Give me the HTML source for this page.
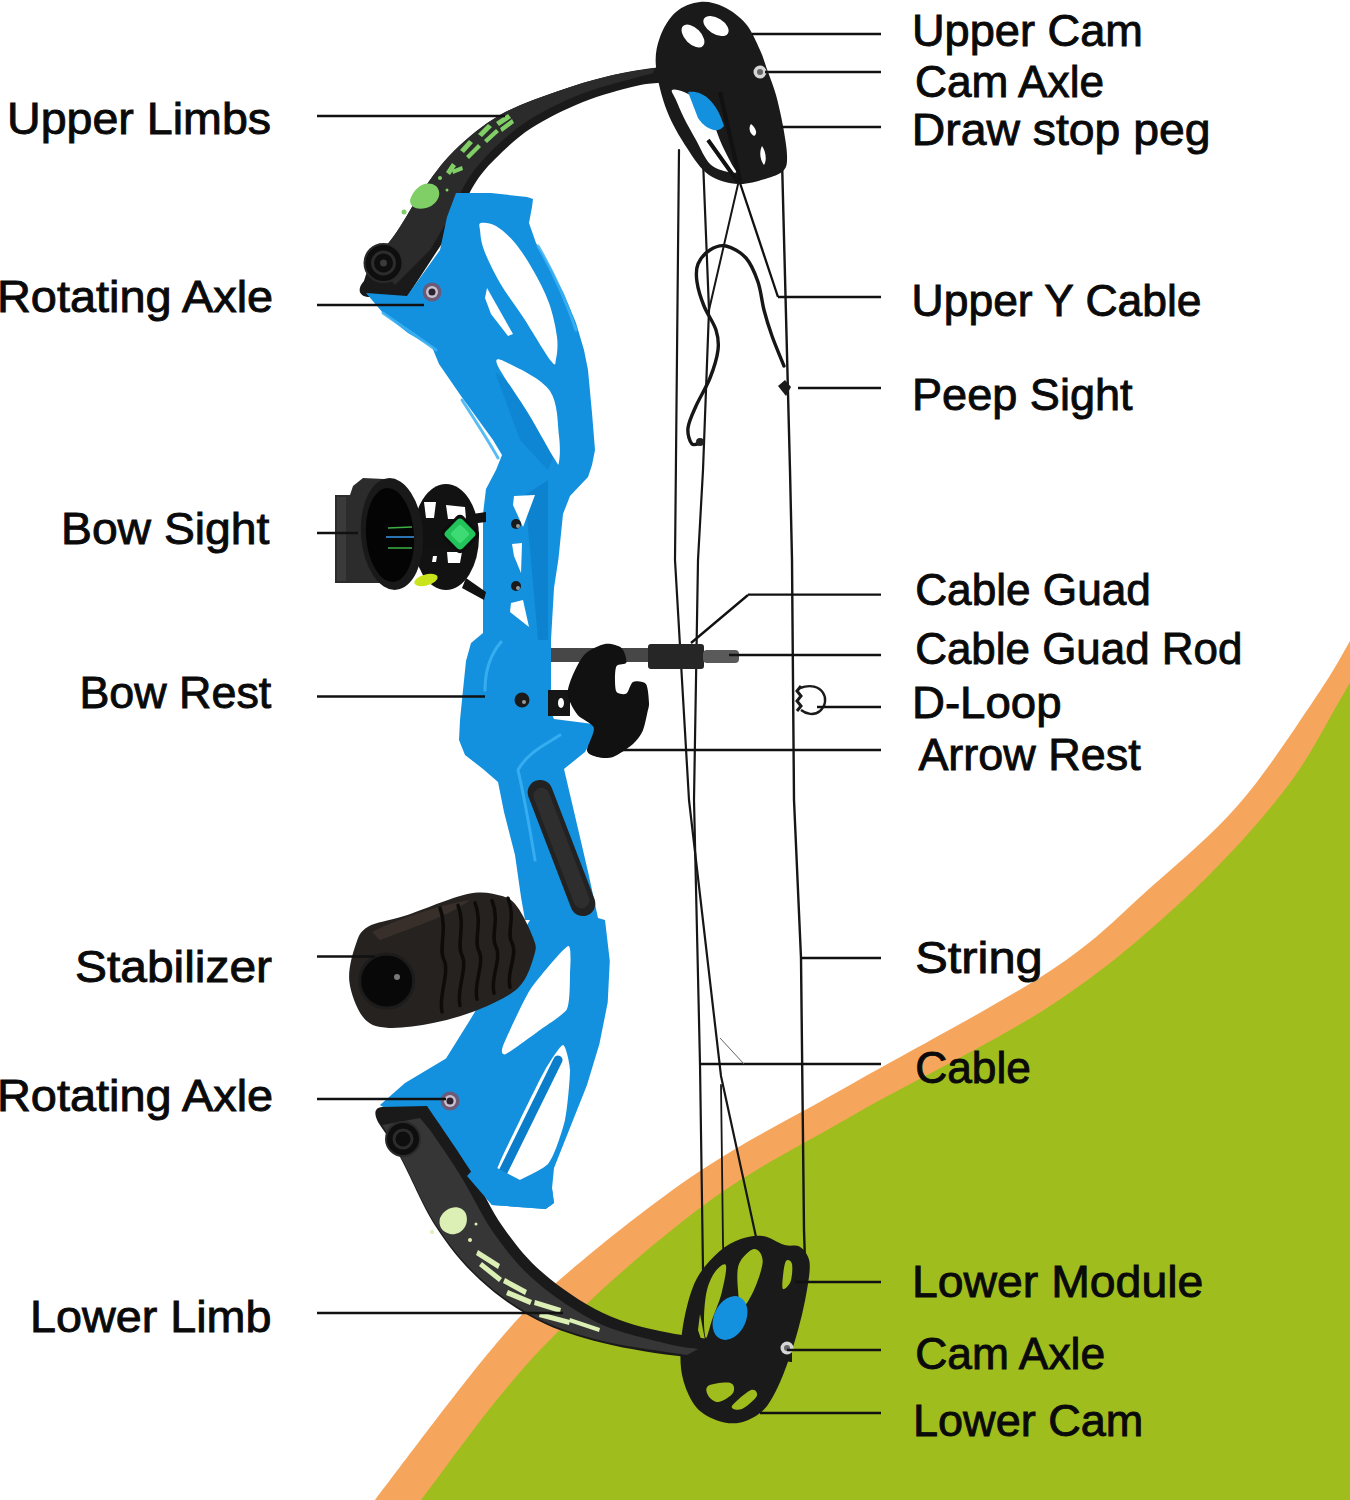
<!DOCTYPE html>
<html><head><meta charset="utf-8"><style>
html,body{margin:0;padding:0;background:#fff;width:1350px;height:1500px;overflow:hidden}
svg{display:block}
</style></head><body>
<svg width="1350" height="1500" viewBox="0 0 1350 1500">
<path d="M345.0,1540.0 C350.0,1533.3 350.7,1531.7 375.0,1500.0 C399.3,1468.3 459.5,1387.3 491.0,1350.0 C522.5,1312.7 529.2,1305.8 564.0,1276.0 C598.8,1246.2 652.3,1202.8 700.0,1171.0 C747.7,1139.2 791.7,1118.3 850.0,1085.0 C908.3,1051.7 1000.0,1003.8 1050.0,971.0 C1100.0,938.2 1118.5,915.8 1150.0,888.0 C1181.5,860.2 1211.7,835.3 1239.0,804.0 C1266.3,772.7 1295.5,727.2 1314.0,700.0 C1332.5,672.8 1339.0,660.2 1350.0,641.0 C1361.0,621.8 1375.0,594.3 1380.0,585.0 L1400,1550 L300,1550Z" fill="#f6a65c"/>
<path d="M393.0,1540.0 C397.7,1533.3 396.5,1531.7 421.0,1500.0 C445.5,1468.3 493.5,1398.7 540.0,1350.0 C586.5,1301.3 648.3,1246.8 700.0,1208.0 C751.7,1169.2 791.7,1150.7 850.0,1117.0 C908.3,1083.3 994.5,1042.2 1050.0,1006.0 C1105.5,969.8 1144.2,935.7 1183.0,900.0 C1221.8,864.3 1256.8,825.3 1283.0,792.0 C1309.2,758.7 1325.5,724.5 1340.0,700.0 C1354.5,675.5 1365.0,654.2 1370.0,645.0 L1400,1550 L300,1550Z" fill="#9fbd1d"/>
<g fill="none" stroke="#161616" stroke-linecap="round" stroke-linejoin="round">
<path d="M679,150 L675,560 L689,800 L721,1076 L761,1260 L766,1285" stroke-width="2.2"/>
<path d="M703,160 L709,310 L706,390 L703,470 L698,560 L694,800 L700,1064 L703,1270" stroke-width="2.2"/>
<path d="M739,180 L709,310" stroke-width="2"/>
<path d="M721,1085 L723,1244 L724,1262" stroke-width="1.8"/>
<path d="M782,160 L790,470 L792,560 L794,800 L801,958 L804,1230 L805,1262" stroke-width="2.4"/>
<path d="M784.0,366.0 C782.0,361.0 775.3,345.3 772.0,336.0 C768.7,326.7 766.3,319.0 764.0,310.0 C761.7,301.0 761.0,290.7 758.0,282.0 C755.0,273.3 751.3,264.0 746.0,258.0 C740.7,252.0 732.0,247.3 726.0,246.0 C720.0,244.7 714.7,247.0 710.0,250.0 C705.3,253.0 700.2,258.7 698.0,264.0 C695.8,269.3 696.0,275.0 697.0,282.0 C698.0,289.0 700.8,298.0 704.0,306.0 C707.2,314.0 713.7,322.7 716.0,330.0 C718.3,337.3 719.0,342.0 718.0,350.0 C717.0,358.0 713.7,368.7 710.0,378.0 C706.3,387.3 699.7,397.7 696.0,406.0 C692.3,414.3 688.7,421.7 688.0,428.0 C687.3,434.3 689.7,441.7 692.0,444.0 C694.3,446.3 700.3,442.3 702.0,442.0" stroke-width="3.4"/>
</g>
<circle cx="700" cy="442" r="4" fill="#222"/>
<path d="M700.0,2.0 C708.0,1.2 716.3,3.3 724.0,7.0 C731.7,10.7 740.0,16.8 746.0,24.0 C752.0,31.2 756.3,42.0 760.0,50.0 C763.7,58.0 765.3,64.5 768.0,72.0 C770.7,79.5 773.5,86.0 776.0,95.0 C778.5,104.0 781.2,116.0 783.0,126.0 C784.8,136.0 786.8,147.7 787.0,155.0 C787.2,162.3 787.2,166.2 784.0,170.0 C780.8,173.8 775.6,175.7 768.0,178.0 C760.4,180.3 748.3,184.5 738.5,184.0 C728.7,183.5 717.6,181.0 709.0,175.0 C700.4,169.0 694.0,158.7 687.0,148.0 C680.0,137.3 672.2,124.5 667.0,111.0 C661.8,97.5 657.2,79.3 656.0,67.0 C654.8,54.7 656.7,46.2 660.0,37.0 C663.3,27.8 669.3,17.8 676.0,12.0 C682.7,6.2 692.0,2.8 700.0,2.0Z" fill="#1a1a1a"/>
<ellipse cx="716" cy="26" rx="14" ry="8" transform="rotate(32 716 26)" fill="#fff"/>
<ellipse cx="693" cy="36" rx="14" ry="8" transform="rotate(45 693 36)" fill="#fff"/>
<path d="M672.0,90.0 C673.3,88.7 679.3,90.0 684.0,92.0 C688.7,94.0 695.3,97.3 700.0,102.0 C704.7,106.7 708.3,112.8 712.0,120.0 C715.7,127.2 718.3,137.0 722.0,145.0 C725.7,153.0 731.3,163.5 734.0,168.0 C736.7,172.5 739.0,171.3 738.0,172.0 C737.0,172.7 732.7,173.3 728.0,172.0 C723.3,170.7 715.3,169.3 710.0,164.0 C704.7,158.7 700.3,147.7 696.0,140.0 C691.7,132.3 687.3,124.7 684.0,118.0 C680.7,111.3 678.0,104.7 676.0,100.0 C674.0,95.3 670.7,91.3 672.0,90.0Z" fill="#fff"/>
<path d="M688,92 C702,90 716,100 724,126 C718,134 706,130 698,118Z" fill="#1491de"/>
<path d="M708,140 L738,182 M720,92 L740,180" stroke="#111" stroke-width="4"/>
<path d="M751,124 C756,128 758,134 754,136 C750,134 748,128 751,124Z" fill="#fff"/>
<path d="M762,146 C766,152 767,160 764,165 C760,160 759,152 762,146Z" fill="#fff"/>
<path d="M364.0,281.0 C365.2,278.3 365.5,273.2 371.0,265.0 C376.5,256.8 388.3,244.0 397.0,231.5 C405.7,219.0 413.5,203.4 423.0,190.0 C432.5,176.6 441.2,163.5 454.0,151.0 C466.8,138.5 482.8,124.9 500.0,115.0 C517.2,105.1 538.8,98.0 557.0,91.5 C575.2,85.0 591.7,80.1 609.0,76.0 C626.3,71.9 645.8,68.7 661.0,67.0 C676.2,65.3 683.2,65.8 700.0,65.6 C716.8,65.4 751.7,65.9 762.0,66.0 L762.0,80.0  C751.7,79.8 716.8,78.1 700.0,78.5 C683.2,78.9 671.8,81.1 661.0,82.4 C650.2,83.7 648.0,83.0 635.0,86.3 C622.0,89.6 600.2,95.0 583.0,102.0 C565.8,109.0 546.2,118.5 531.5,128.0 C516.8,137.5 504.6,149.5 495.0,159.0 C485.4,168.5 480.5,174.5 474.0,185.0 C467.5,195.5 459.0,215.8 456.0,222.0 L407,297 L368,297 C360,296 356,290 364,281Z" fill="#1a1a1a"/>
<path d="M375.0,262.0 C378.7,256.9 389.0,243.5 397.0,231.5 C405.0,219.5 413.5,203.4 423.0,190.0 C432.5,176.6 441.2,163.5 454.0,151.0 C466.8,138.5 482.8,124.9 500.0,115.0 C517.2,105.1 538.8,98.0 557.0,91.5 C575.2,85.0 592.7,79.9 609.0,76.0 C625.3,72.1 647.3,69.3 655.0,68.0 L653.0,73.3 C649.6,74.2 644.9,75.1 632.8,78.6 C620.6,82.2 597.6,87.5 580.0,94.6 C562.4,101.7 542.3,111.5 527.2,121.3 C512.0,131.1 499.4,143.4 489.4,153.3 C479.4,163.2 474.0,169.9 467.2,180.8 C460.4,191.7 451.9,212.2 448.8,218.5 L430,250 L395,285Z" fill="#2b2b2b"/>
<circle cx="383.5" cy="263" r="19" fill="#0e0e0e" stroke="#2a2a2a" stroke-width="2"/><circle cx="383.5" cy="263" r="11" fill="none" stroke="#2c2c2c" stroke-width="3"/><circle cx="383.5" cy="263" r="3.5" fill="#3a3a3a"/>
<g fill="#7fcf66"><path d="M410,200 C415,185 428,180 436,186 C444,194 436,206 426,208 C418,210 410,208 410,200Z"/><circle cx="404" cy="212" r="2.5"/><circle cx="440" cy="178" r="2"/><circle cx="447" cy="190" r="1.5"/><path d="M446,172 l6,-9 l4,3 l-6,9Z M452,170 l10,-4 l1,4 l-10,4Z"/><path d="M460,150 l9,-10 l4,3 l-9,10Z M466,156 l12,-12 l3,3 l-12,12Z"/><path d="M478,134 l10,-10 l4,3 l-10,10Z M484,140 l12,-11 l3,3 l-12,11Z"/><path d="M496,122 l12,-8 l3,4 l-12,8Z M500,128 l12,-9 l2,4 l-12,9Z"/></g>
<path d="M447.0,217.0 L456.0,193.0 L491.0,193.0 L527.0,197.0 L533.0,199.0 L532.0,207.0 L529.0,223.0 L536.0,243.0 L549.0,265.0 L564.0,294.0 L576.0,323.0 L584.0,350.0 L588.0,370.0 L592.0,413.0 L595.0,450.0 L592.0,465.0 L588.0,477.0 L570.0,496.0 L563.0,514.0 L558.5,558.5 L554.0,588.0 L551.0,640.0 L551.0,712.0 L554.0,719.0 L597.0,724.5 L597.0,730.0 L585.0,752.0 L564.0,769.0 L568.0,786.0 L579.0,833.0 L589.0,876.0 L598.0,918.0 L605.0,920.0 L609.8,961.0 L607.7,1002.6 L599.4,1044.0 L587.0,1085.0 L570.5,1126.6 L554.0,1168.0 L552.0,1188.6 L554.0,1203.0 L545.7,1209.0 L492.0,1205.0 L467.0,1176.0 L420.0,1130.0 L380.0,1105.0 L405.0,1083.0 L446.0,1058.5 L470.0,1020.0 L530.0,920.0 L525.0,920.0 L521.0,897.0 L515.0,855.0 L504.0,812.0 L498.0,782.0 L483.0,769.0 L465.0,755.0 L459.0,740.0 L460.0,720.0 L463.0,690.0 L466.0,661.0 L471.0,643.0 L483.0,633.0 L483.0,514.0 L486.0,489.0 L496.0,470.0 L502.0,455.0 L493.0,440.0 L461.0,396.0 L439.0,364.0 L432.0,347.0 L408.0,333.0 L383.0,313.0 L366.0,293.0 L407.0,296.0 L440.0,250.0Z" fill="#1491de"/>
<path d="M495,372 L540,404 L556,450 L548,470 L520,440 Z" fill="#0a7ecb" opacity="0.6"/>
<path d="M525,495 L548,480 L548,640 L538,640 Z" fill="#0a7ecb" opacity="0.7"/>
<g fill="none" stroke="#3db2f4" stroke-width="3" stroke-linecap="round" opacity="0.85">
<path d="M501,642 C490,655 485,670 485,690"/>
<path d="M462,400 C475,420 488,440 498,458"/>
<path d="M383,313 C400,325 420,338 436,350"/>
<path d="M560,735 C545,745 528,752 518,770 C525,800 530,830 535,860"/>
<path d="M538,246 C552,270 566,300 576,330"/>
</g>
<path d="M481.0,223.0 C483.7,222.3 490.3,222.7 496.0,226.0 C501.7,229.3 508.8,235.7 515.0,243.0 C521.2,250.3 527.3,260.0 533.0,270.0 C538.7,280.0 545.0,291.8 549.0,303.0 C553.0,314.2 555.8,327.7 557.0,337.0 C558.2,346.3 557.0,355.0 556.0,359.0 C555.0,363.0 556.5,368.0 551.0,361.0 C545.5,354.0 531.5,330.0 523.0,317.0 C514.5,304.0 506.5,294.2 500.0,283.0 C493.5,271.8 487.3,258.8 484.0,250.0 C480.7,241.2 480.5,234.5 480.0,230.0 C479.5,225.5 478.3,223.7 481.0,223.0Z" fill="#ffffff"/>
<path d="M487,288 L513,334 L508,336 L491,314 L485,298Z" fill="#ffffff"/>
<path d="M497.0,364.0 C494.0,355.8 501.2,359.5 510.0,364.0 C518.8,368.5 541.8,379.0 550.0,391.0 C558.2,403.0 557.5,424.2 559.0,436.0 C560.5,447.8 559.8,458.3 559.0,462.0 C558.2,465.7 559.2,466.2 554.0,458.0 C548.8,449.8 537.5,428.7 528.0,413.0 C518.5,397.3 500.0,372.2 497.0,364.0Z" fill="#ffffff"/>
<path d="M514,496 L535,495 L523,527 L513,505Z" fill="#ffffff"/>
<path d="M512,544 L522,543 L521,573 L514,556Z" fill="#ffffff"/>
<path d="M511,603 L523,600 L529,627 L510,612Z" fill="#ffffff"/>
<path d="M568.0,946.0 C572.0,944.5 570.1,968.7 570.0,975.0 C569.9,981.3 570.0,1003.5 567.0,1009.0 C564.0,1014.5 546.1,1025.5 540.0,1030.0 C533.9,1034.5 509.7,1052.4 506.0,1054.0 C502.3,1055.6 500.6,1052.4 503.0,1046.0 C505.4,1039.6 523.5,1000.0 530.0,990.0 C536.5,980.0 564.0,947.5 568.0,946.0Z" fill="#ffffff"/>
<path d="M563.0,1045.0 C565.5,1045.0 569.8,1062.5 570.0,1070.0 C570.2,1077.5 567.2,1110.6 565.0,1120.0 C562.8,1129.4 554.1,1157.4 548.0,1164.0 C541.9,1170.6 509.2,1185.2 504.0,1186.0 C498.8,1186.8 494.4,1178.6 496.0,1172.0 C497.6,1165.4 515.1,1130.2 520.0,1120.0 C524.9,1109.8 540.7,1077.5 545.0,1070.0 C549.3,1062.5 560.5,1045.0 563.0,1045.0Z" fill="#ffffff"/>
<path d="M558,1060 L500,1178" stroke="#0a7ecb" stroke-width="9" stroke-linecap="round"/>
<rect x="-12.5" y="-72" width="25" height="144" rx="12.5" fill="#222" transform="translate(561.5,848) rotate(-21)"/>
<rect x="-8" y="-64" width="16" height="128" rx="8" fill="#2e2e2e" transform="translate(561.5,848) rotate(-21)"/>
<circle cx="432" cy="292" r="9.5" fill="#6b5a78"/><circle cx="432" cy="292" r="6" fill="#c9c0cf"/><circle cx="432" cy="292" r="3.5" fill="#2a2230"/>
<circle cx="450" cy="1101" r="9.5" fill="#6b5a78"/><circle cx="450" cy="1101" r="6" fill="#c9c0cf"/><circle cx="450" cy="1101" r="3.5" fill="#2a2230"/>
<circle cx="516" cy="524" r="5.0" fill="#1a1a1a"/><circle cx="518" cy="526" r="2" fill="#999"/>
<circle cx="516" cy="586" r="5.0" fill="#1a1a1a"/><circle cx="518" cy="588" r="2" fill="#999"/>
<circle cx="522" cy="700" r="7.5" fill="#1a1a1a"/><circle cx="524" cy="702" r="2" fill="#999"/>
<path d="M762.7,1236.0 C770.0,1237.0 778.6,1243.3 784.7,1245.0 C790.8,1246.7 795.5,1244.5 799.4,1246.4 C803.3,1248.4 806.3,1252.6 808.0,1256.7 C809.7,1260.8 810.1,1263.7 809.6,1271.0 C809.1,1278.3 806.9,1290.9 805.0,1300.7 C803.1,1310.5 800.7,1320.3 798.0,1330.0 C795.3,1339.7 792.5,1349.2 789.0,1359.0 C785.5,1368.8 781.4,1380.1 777.0,1388.7 C772.6,1397.3 768.8,1405.1 762.7,1410.7 C756.7,1416.3 748.0,1420.7 740.7,1422.4 C733.4,1424.1 726.0,1423.4 718.7,1421.0 C711.4,1418.6 702.6,1414.5 696.7,1407.8 C690.8,1401.1 686.2,1390.3 683.5,1381.0 C680.8,1371.7 680.2,1363.0 680.5,1352.0 C680.8,1341.0 682.3,1327.2 685.0,1315.0 C687.7,1302.8 691.1,1289.2 696.7,1278.7 C702.3,1268.2 711.4,1258.6 718.7,1252.0 C726.0,1245.4 733.4,1241.7 740.7,1239.0 C748.0,1236.3 755.4,1235.0 762.7,1236.0Z" fill="#1a1a1a"/>
<path d="M726.0,1265.5 C727.0,1269.2 723.9,1283.9 721.6,1293.0 C719.3,1302.1 714.6,1312.5 712.0,1320.0 C709.4,1327.5 707.3,1338.3 706.0,1338.0 C704.7,1337.7 703.8,1326.0 704.0,1318.0 C704.2,1310.0 705.0,1297.8 707.0,1290.0 C709.0,1282.2 712.5,1275.1 715.7,1271.0 C718.9,1266.9 725.0,1261.8 726.0,1265.5Z" fill="#9fbd1d"/>
<path d="M700,1314 L705,1340 L703,1345 L698,1330Z" fill="#9fbd1d"/>
<path d="M739.0,1264.0 C741.7,1257.2 750.0,1249.5 754.0,1249.0 C758.0,1248.5 762.7,1254.2 762.7,1261.0 C762.7,1267.8 757.5,1282.2 754.0,1290.0 C750.5,1297.8 744.7,1308.0 742.0,1308.0 C739.3,1308.0 738.5,1297.3 738.0,1290.0 C737.5,1282.7 736.3,1270.8 739.0,1264.0Z" fill="#9fbd1d"/>
<path d="M786.0,1261.0 C787.5,1259.0 791.2,1260.6 792.0,1264.0 C792.8,1267.4 792.1,1277.4 790.6,1281.6 C789.1,1285.8 784.3,1290.0 783.0,1289.0 C781.7,1288.0 782.5,1280.4 783.0,1275.7 C783.5,1271.0 784.5,1263.0 786.0,1261.0Z" fill="#9fbd1d"/>
<path d="M708.4,1385.8 C712.1,1383.6 726.3,1381.8 730.4,1383.0 C734.5,1384.2 735.0,1389.8 733.0,1393.0 C731.0,1396.2 722.8,1401.5 718.7,1402.0 C714.6,1402.5 710.1,1398.7 708.4,1396.0 C706.7,1393.3 704.7,1388.0 708.4,1385.8Z" fill="#9fbd1d"/>
<path d="M731.9,1406.3 C733.4,1403.1 746.9,1391.7 751.0,1390.0 C755.1,1388.3 758.3,1392.8 756.8,1396.0 C755.3,1399.2 746.1,1407.3 742.0,1409.0 C737.9,1410.7 730.4,1409.5 731.9,1406.3Z" fill="#9fbd1d"/>
<ellipse cx="730" cy="1318" rx="16" ry="23" fill="#1491de" transform="rotate(25 730 1318)"/>
<path d="M427.0,1106.0 C434.2,1116.7 457.3,1149.8 470.0,1170.0 C482.7,1190.2 490.8,1209.8 503.0,1227.0 C515.2,1244.2 526.3,1258.7 543.0,1273.0 C559.7,1287.3 581.8,1303.0 603.0,1313.0 C624.2,1323.0 642.2,1327.5 670.0,1333.0 C697.8,1338.5 749.7,1343.8 770.0,1346.0 C790.3,1348.2 788.3,1346.0 792.0,1346.0 L792.0,1362.0 C788.3,1361.8 787.5,1361.8 770.0,1361.0 C752.5,1360.2 714.8,1360.0 687.0,1357.0 C659.2,1354.0 628.0,1349.2 603.0,1343.0 C578.0,1336.8 557.5,1330.5 537.0,1320.0 C516.5,1309.5 496.8,1295.5 480.0,1280.0 C463.2,1264.5 449.3,1247.5 436.0,1227.0 C422.7,1206.5 409.7,1174.5 400.0,1157.0 C390.3,1139.5 381.7,1127.8 378.0,1122.0 C374,1114 374,1108 382,1107 Z" fill="#1a1a1a"/>
<path d="M430.8,1131.1 C435.8,1138.5 450.1,1158.7 460.6,1175.8 C471.2,1192.8 481.5,1215.8 494.0,1233.4 C506.6,1251.0 518.4,1266.4 535.8,1281.3 C553.2,1296.3 576.4,1312.6 598.3,1322.9 C620.2,1333.3 650.6,1339.3 667.3,1343.7 C683.9,1348.0 693.0,1348.0 698.2,1348.9 L687,1355  C673.0,1352.7 628.0,1347.2 603.0,1341.0 C578.0,1334.8 557.5,1328.5 537.0,1318.0 C516.5,1307.5 496.8,1293.5 480.0,1278.0 C463.2,1262.5 449.3,1245.5 436.0,1225.0 C422.7,1204.5 409.0,1171.7 400.0,1155.0 C391.0,1138.3 385.0,1130.0 382.0,1125.0 L420,1118Z" fill="#363636"/>
<path d="M467,1176 L482,1160 L520,1180 L552,1188 L554,1203 L545.7,1209 L492,1205Z" fill="#1491de"/>
<circle cx="403" cy="1139" r="17" fill="#0e0e0e" stroke="#2a2a2a" stroke-width="2"/><circle cx="403" cy="1139" r="9" fill="none" stroke="#2c2c2c" stroke-width="3"/>
<g fill="#dcefb4"><path d="M440,1218 C446,1205 462,1204 466,1214 C470,1226 460,1236 450,1234 C442,1232 438,1226 440,1218Z"/><circle cx="432" cy="1232" r="2"/><circle cx="470" cy="1240" r="2"/><circle cx="476" cy="1224" r="1.5"/><path d="M478,1250 l22,14 l-2,5 l-22,-14Z M482,1262 l20,16 l-3,4 l-20,-16Z"/><path d="M505,1278 l22,12 l-2,5 l-22,-12Z M508,1290 l24,10 l-2,5 l-24,-10Z"/><path d="M535,1300 l26,8 l-1,5 l-26,-8Z M540,1312 l30,8 l-1,5 l-30,-8Z"/><path d="M570,1318 l30,10 l-1,4 l-30,-10Z"/></g>
<circle cx="760" cy="72" r="6.5" fill="#d6d6d6"/><circle cx="760" cy="72" r="3" fill="#666"/>
<circle cx="787" cy="1348" r="6.5" fill="#d6d6d6"/><circle cx="787" cy="1348" r="3" fill="#666"/>
<path d="M335,495 L350,495 L353,486 L363,478 L384,479 L384,583 L335,583Z" fill="#2c2c2c"/>
<path d="M337,497 L346,497 L346,581 L337,581Z" fill="#3a3a3a"/>
<ellipse cx="446" cy="537" rx="33" ry="53" fill="#121212"/>
<path d="M424,502 L436,502 L434,518 L426,518Z M446,505 L465,507 L466,519 L448,519Z M447,552 L462,552 L460,563 L448,563Z M433,556 L437,556 L436,562 L432,562Z" fill="#fff"/>
<path d="M418,520 L470,520 L470,550 L418,550Z" fill="#111"/>
<path d="M466,515 L486,512 L486,522 L470,524Z" fill="#111"/>
<ellipse cx="392" cy="534" rx="31" ry="56" fill="#191919" transform="rotate(-4 392 534)"/>
<ellipse cx="390" cy="535" rx="24" ry="47" fill="#040404" transform="rotate(-4 390 535)"/>
<path d="M388,528 L412,527 M386,537 L414,537 M388,548 L412,548" stroke="#3fae47" stroke-width="1.4"/>
<path d="M386,537 L414,537" stroke="#2a6fd0" stroke-width="1.6"/>
<rect x="-15" y="-15" width="30" height="30" rx="5" fill="#0d0d0d" transform="translate(460,534) rotate(45)"/>
<rect x="-12" y="-12" width="24" height="24" rx="4" fill="#22c45a" transform="translate(460,534) rotate(45)"/>
<rect x="-7" y="-7" width="14" height="14" rx="2" fill="#3edb74" transform="translate(460,534) rotate(45)"/>
<path d="M466,578 L486,592 L484,600 L462,588Z" fill="#111"/>
<ellipse cx="426" cy="580" rx="12" ry="5.5" fill="#c9e31c" transform="rotate(-15 426 580)"/>
<path d="M368.0,926.7 C376.2,921.8 388.4,921.2 405.0,915.8 C421.6,910.3 451.7,897.4 467.5,894.0 C483.3,890.6 491.8,893.5 500.0,895.6 C508.2,897.7 511.5,899.4 517.0,906.4 C522.5,913.4 530.1,929.5 533.0,937.5 C535.9,945.5 536.8,946.3 534.4,954.6 C532.0,962.9 527.9,978.2 518.8,987.3 C509.7,996.4 494.3,1003.0 480.0,1009.0 C465.7,1015.0 448.6,1019.9 433.0,1023.0 C417.4,1026.1 398.4,1028.7 386.7,1027.7 C375.0,1026.7 369.2,1024.8 363.0,1017.0 C356.8,1009.2 350.5,993.0 349.3,981.0 C348.1,969.0 352.5,954.0 355.6,945.0 C358.7,936.0 359.8,931.6 368.0,926.7Z" fill="#262220"/>
<path d="M372,932 C400,918 440,905 470,900 C450,915 420,925 380,940Z" fill="#3e332d" opacity="0.8"/>
<g fill="none" stroke="#0e0c0b" stroke-width="3.5" stroke-linecap="round">
<path d="M440.0,908.0 C448.0,928.0 438.0,950.0 444.0,960.0 C450.0,972.0 438.0,997.0 442.0,1012.0"/>
<path d="M458.0,905.4 C466.0,925.4 456.0,945.4 462.0,955.4 C468.0,967.4 456.0,990.5 460.0,1005.5"/>
<path d="M475.0,902.9 C483.0,922.9 473.0,941.1 479.0,951.1 C485.0,963.1 473.0,984.3 477.0,999.3"/>
<path d="M492.0,900.5 C500.0,920.5 490.0,936.8 496.0,946.8 C502.0,958.8 490.0,978.2 494.0,993.2"/>
<path d="M508.0,898.2 C516.0,918.2 506.0,932.8 512.0,942.8 C518.0,954.8 506.0,972.4 510.0,987.4"/>
</g>
<circle cx="386.7" cy="981" r="27" fill="#080808"/>
<circle cx="386.7" cy="981" r="27" fill="none" stroke="#1c1c1c" stroke-width="3"/>
<circle cx="397" cy="977" r="3" fill="#777"/>
<rect x="551" y="648" width="100" height="14" fill="#474747"/>
<rect x="648" y="644" width="56" height="25" rx="3" fill="#262626"/>
<rect x="703" y="650" width="36" height="13" rx="4" fill="#5a5a5a"/>
<path d="M548,690 L570,690 L570,716 L548,716Z" fill="#161616"/><ellipse cx="561" cy="703" rx="3" ry="5" fill="#fff"/>
<path d="M605.0,644.0 C609.9,643.2 618.6,645.5 621.5,648.0 C624.4,650.5 627.1,660.2 626.4,662.6 C625.7,665.0 618.1,663.8 616.6,666.0 C615.1,668.2 615.0,675.5 615.0,679.0 C615.0,682.5 615.1,690.1 616.6,692.0 C618.1,693.9 624.2,694.9 626.4,693.6 C628.6,692.3 630.4,683.3 633.0,682.0 C635.6,680.7 643.9,681.2 646.0,684.0 C648.1,686.8 648.8,699.3 649.0,703.0 C649.2,706.7 648.4,707.8 647.6,711.5 C646.8,715.2 644.6,726.7 642.7,731.0 C640.8,735.3 637.0,740.5 633.0,744.0 C629.0,747.5 617.8,755.3 613.0,757.0 C608.2,758.7 600.5,757.9 597.0,757.0 C593.5,756.1 587.4,754.5 587.0,750.6 C586.6,746.7 595.1,732.6 593.8,727.8 C592.5,723.0 581.0,719.1 577.5,714.7 C574.0,710.3 568.4,700.2 567.7,695.0 C567.0,689.8 570.3,681.1 572.6,675.6 C574.9,670.1 580.7,658.2 585.0,654.0 C589.3,649.8 600.1,644.8 605.0,644.0Z" fill="#111"/>
<path d="M800,688 C822,680 832,700 820,711 C814,716 806,714 801,710" fill="none" stroke="#1a1a1a" stroke-width="2.4"/>
<path d="M801,686 l-4,5 l4,5 l-4,5 l4,5 l-4,5" fill="none" stroke="#1a1a1a" stroke-width="3"/>
<path d="M778,386 L785,380 L791,387 L786,396Z" fill="#1a1a1a"/>
<g stroke="#111" stroke-width="2.3" fill="none">
<line x1="752.0" y1="34.0" x2="881.0" y2="34.0"/>
<line x1="765.0" y1="72.0" x2="881.0" y2="72.0"/>
<line x1="781.0" y1="127.0" x2="881.0" y2="127.0"/>
<line x1="778.0" y1="297.0" x2="881.0" y2="297.0"/>
<line x1="798.0" y1="388.0" x2="881.0" y2="388.0"/>
<line x1="748.0" y1="594.7" x2="881.0" y2="594.7"/>
<line x1="729.0" y1="655.0" x2="881.0" y2="655.0"/>
<line x1="817.0" y1="707.0" x2="881.0" y2="707.0"/>
<line x1="620.0" y1="750.0" x2="881.0" y2="750.0"/>
<line x1="800.0" y1="958.0" x2="881.0" y2="958.0"/>
<line x1="700.0" y1="1064.0" x2="881.0" y2="1064.0"/>
<line x1="795.0" y1="1282.0" x2="881.0" y2="1282.0"/>
<line x1="787.0" y1="1350.0" x2="881.0" y2="1350.0"/>
<line x1="760.0" y1="1413.0" x2="881.0" y2="1413.0"/>
<line x1="317.0" y1="116.0" x2="505.0" y2="116.0"/>
<line x1="317.0" y1="305.0" x2="424.0" y2="305.0"/>
<line x1="317.0" y1="533.0" x2="358.0" y2="533.0"/>
<line x1="317.0" y1="696.5" x2="485.0" y2="696.5"/>
<line x1="317.0" y1="956.5" x2="375.0" y2="956.5"/>
<line x1="317.0" y1="1099.0" x2="446.0" y2="1099.0"/>
<line x1="317.0" y1="1313.0" x2="563.0" y2="1313.0"/>
<path d="M739,180 L778,297"/><path d="M691,643 L748,595"/>
</g>
<path d="M720,1038 L744,1064" stroke="#666" stroke-width="1"/>
<g font-family="Liberation Sans, sans-serif" font-size="45" fill="#0a0a0a" stroke="#0a0a0a" stroke-width="0.9">
<text transform="translate(7.00,134.40) scale(1.0353,1)">Upper Limbs</text>
<text transform="translate(-3.00,312.20) scale(1.0419,1)">Rotating Axle</text>
<text transform="translate(61.00,544.40) scale(1.0291,1)">Bow Sight</text>
<text transform="translate(79.40,707.80) scale(0.9969,1)">Bow Rest</text>
<text transform="translate(75.00,982.40) scale(1.0649,1)">Stabilizer</text>
<text transform="translate(-3.00,1111.00) scale(1.0419,1)">Rotating Axle</text>
<text transform="translate(29.90,1331.60) scale(1.0391,1)">Lower Limb</text>
<text transform="translate(912.00,46.00) scale(1.0043,1)">Upper Cam</text>
<text transform="translate(915.00,97.30) scale(0.9819,1)">Cam Axle</text>
<text transform="translate(911.80,145.00) scale(1.0300,1)">Draw stop peg</text>
<text transform="translate(911.60,316.00) scale(0.9878,1)">Upper Y Cable</text>
<text transform="translate(912.00,410.30) scale(1.0023,1)">Peep Sight</text>
<text transform="translate(915.20,605.20) scale(0.9817,1)">Cable Guad</text>
<text transform="translate(915.20,664.00) scale(0.9761,1)">Cable Guad Rod</text>
<text transform="translate(912.00,718.40) scale(1.0135,1)">D-Loop</text>
<text transform="translate(918.40,769.60) scale(0.9987,1)">Arrow Rest</text>
<text transform="translate(915.20,972.60) scale(1.0847,1)">String</text>
<text transform="translate(915.20,1083.00) scale(0.9847,1)">Cable</text>
<text transform="translate(912.00,1297.00) scale(1.0307,1)">Lower Module</text>
<text transform="translate(915.20,1369.20) scale(0.9865,1)">Cam Axle</text>
<text transform="translate(913.00,1436.40) scale(1.0017,1)">Lower Cam</text>
</g>
</svg>
</body></html>
